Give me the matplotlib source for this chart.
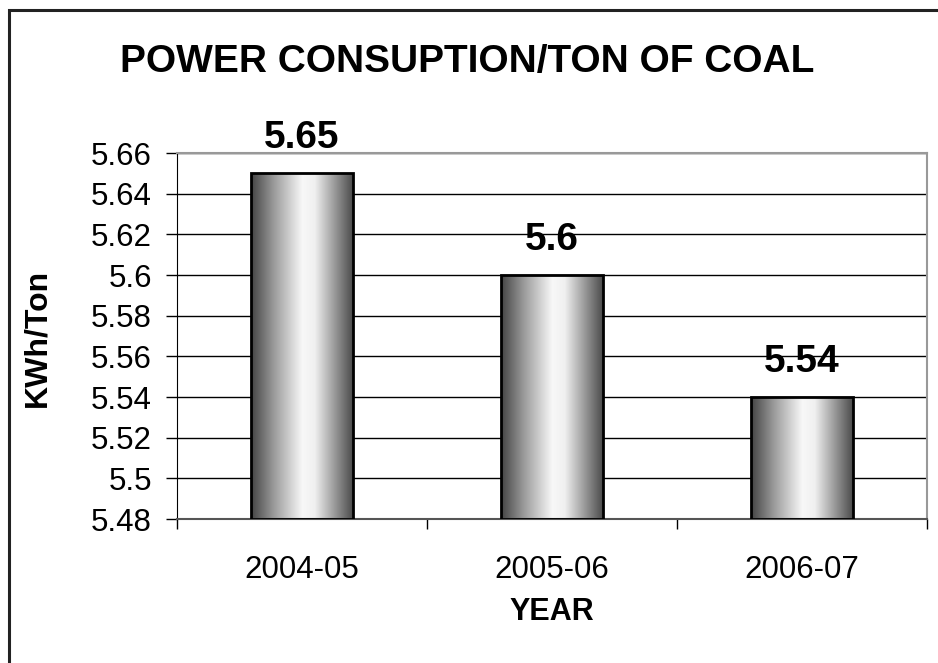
import numpy as np
import matplotlib
matplotlib.use('Agg')
import matplotlib.pyplot as plt
from matplotlib.colors import LinearSegmentedColormap
from matplotlib.patches import Rectangle

plt.rcParams['font.family'] = ['Liberation Sans', 'DejaVu Sans']

years = ['2004-05', '2005-06', '2006-07']
kwh_per_ton = [5.65, 5.6, 5.54]
value_labels = ['5.65', '5.6', '5.54']
y_ticks = [5.48, 5.50, 5.52, 5.54, 5.56, 5.58, 5.60, 5.62, 5.64, 5.66]
y_tick_labels = ['5.48', '5.5', '5.52', '5.54', '5.56', '5.58', '5.6', '5.62', '5.64', '5.66']

W, H = 938, 663
fig = plt.figure(figsize=(W / 100, H / 100), dpi=100)
ax = fig.add_axes([177 / W, 1 - 519 / H, 750 / W, 366 / H])

# outer frame (only left + top visible, picture is cropped)
fig.patches.append(Rectangle((9 / W, -0.1), 1.2, 1.1 - 10.5 / H, transform=fig.transFigure,
                             fill=False, edgecolor='#222222', linewidth=2.2, zorder=0))

# cylinder-like shading for bars
shade = LinearSegmentedColormap.from_list('cyl', [(0, '#444444'), (0.22, '#9a9a9a'),
                                                  (0.5, '#f8f8f8'), (0.62, '#f0f0f0'),
                                                  (0.85, '#8a8a8a'), (1, '#484848')])
grad = np.linspace(0, 1, 256).reshape(1, -1)

ymin, ymax = 5.48, 5.66
width = 0.41
x = np.arange(len(years))
bars = ax.bar(x, np.array(kwh_per_ton) - ymin, width, bottom=ymin,
              facecolor='none', edgecolor='black', linewidth=2, zorder=3)
for b in bars:
    x0, y0 = b.get_x(), b.get_y()
    ax.imshow(grad, cmap=shade, aspect='auto', zorder=2,
              extent=(x0, x0 + b.get_width(), y0, y0 + b.get_height()))

for xi, v, lab in zip(x, kwh_per_ton, value_labels):
    ax.text(xi, v + 0.0085, lab, ha='center', va='bottom', fontsize=28, fontweight='bold')

ax.set_xlim(-0.5, len(years) - 0.5)
ax.set_ylim(ymin, ymax)
ax.set_yticks(y_ticks)
ax.set_yticklabels(y_tick_labels, fontsize=22.5)
ax.set_xticks(x)
ax.set_xticklabels(years, fontsize=22.5)
ax.tick_params(axis='x', length=0, pad=26)
ax.set_xticks(np.arange(len(years) + 1) - 0.5, minor=True)
ax.tick_params(axis='x', which='minor', length=7, direction='out', width=1)
ax.tick_params(axis='y', length=8, direction='out', width=1, pad=10)
ax.yaxis.grid(True, color='black', linewidth=1)
ax.set_axisbelow(True)
for s in ['top', 'right']:
    ax.spines[s].set_color('#999999')
    ax.spines[s].set_linewidth(1.5)
ax.spines['bottom'].set_color('#555555')
ax.spines['bottom'].set_linewidth(1.5)
ax.spines['left'].set_color('black')

fig.text(552 / W, 1 - 612 / H, 'YEAR', ha='center', va='center', fontsize=22, fontweight='bold')
fig.text(37 / W, 1 - 338 / H, 'KWh/Ton', ha='center', va='center', rotation=90,
         fontsize=23, fontweight='bold')
fig.text(467 / W, 1 - 62 / H, 'POWER CONSUPTION/TON OF COAL', ha='center', va='center',
         fontsize=28, fontweight='bold')

fig.savefig('out.png', dpi=100)
